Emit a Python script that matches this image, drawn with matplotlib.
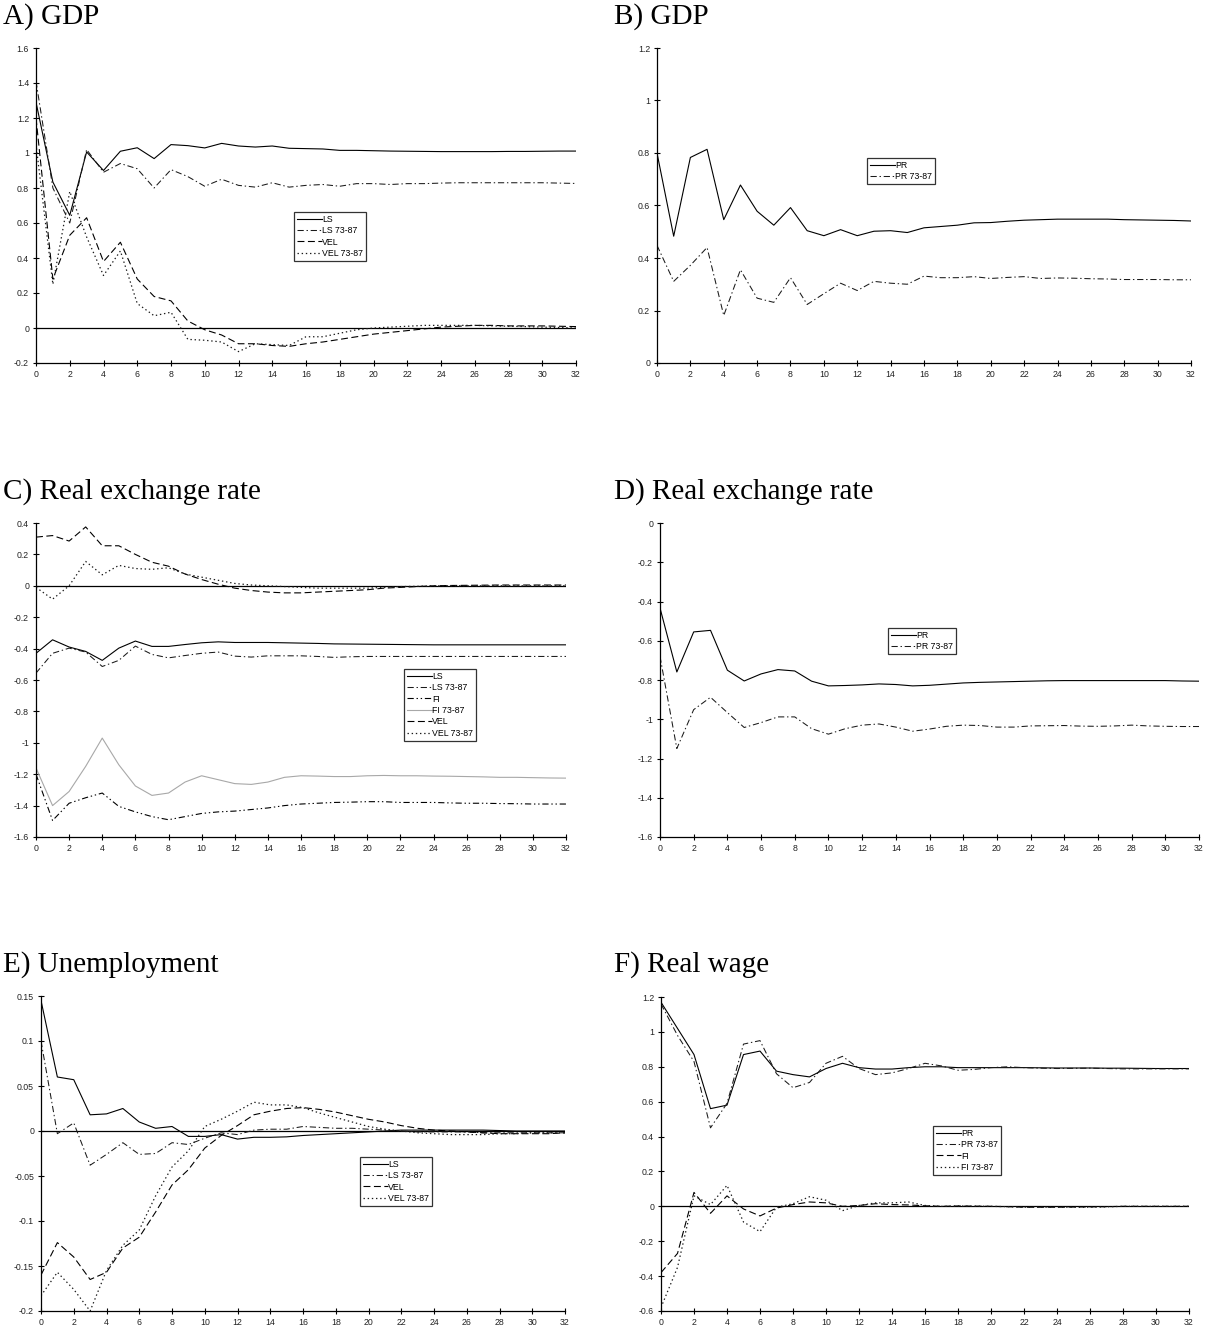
"""
Impulse responses, six panels (GDP, real exchange rate, unemployment, real wage).
"""

import numpy as np
import matplotlib
matplotlib.use("Agg")
import matplotlib.pyplot as plt
from matplotlib.ticker import FuncFormatter, MultipleLocator

plt.rcParams['font.family'] = ['Liberation Sans', 'DejaVu Sans']
plt.rcParams['lines.scale_dashes'] = False

# horizon (quarters)
horizon = list(range(33))

# A) GDP
A_LS = [1.29, 0.834, 0.644, 1.006, 0.90, 1.01, 1.03, 0.968, 1.048, 1.042, 1.029, 1.055, 1.04, 1.034, 1.04, 1.027,
        1.025, 1.023, 1.015, 1.015, 1.013, 1.011, 1.01, 1.009, 1.008, 1.008, 1.008, 1.008, 1.009, 1.009, 1.01, 1.011, 1.011]
A_LS_7387 = [1.41, 0.80, 0.60, 1.02, 0.89, 0.94, 0.91, 0.80, 0.905, 0.865, 0.81, 0.85, 0.815, 0.805, 0.83, 0.805,
             0.815, 0.82, 0.81, 0.825, 0.825, 0.82, 0.825, 0.825, 0.828, 0.83, 0.83, 0.83, 0.83, 0.83, 0.83, 0.828, 0.826]
A_VEL = [1.2, 0.28, 0.53, 0.63, 0.38, 0.49, 0.28, 0.18, 0.155, 0.04, -0.01, -0.04, -0.09, -0.09, -0.10, -0.105,
         -0.09, -0.08, -0.065, -0.05, -0.035, -0.025, -0.015, -0.005, 0.005, 0.01, 0.015, 0.015, 0.012, 0.012, 0.012, 0.01, 0.008]
A_VEL_7387 = [1.05, 0.25, 0.78, 0.52, 0.30, 0.44, 0.14, 0.07, 0.09, -0.065, -0.07, -0.08, -0.135, -0.09, -0.095, -0.10,
              -0.05, -0.05, -0.03, -0.01, 0.0, 0.005, 0.01, 0.015, 0.015, 0.015, 0.015, 0.012, 0.01, 0.008, 0.005, 0.003, 0.0]

# B) GDP
B_PR = [0.80, 0.483, 0.783, 0.814, 0.546, 0.678, 0.578, 0.525, 0.592, 0.504, 0.485, 0.508, 0.485, 0.502, 0.504, 0.497,
        0.515, 0.52, 0.525, 0.534, 0.535, 0.54, 0.544, 0.546, 0.548, 0.548, 0.548, 0.548, 0.546, 0.545, 0.544, 0.543, 0.541]
B_PR_7387 = [0.448, 0.311, 0.372, 0.44, 0.181, 0.355, 0.247, 0.231, 0.325, 0.223, 0.264, 0.304, 0.276, 0.311, 0.304, 0.30,
             0.331, 0.325, 0.325, 0.329, 0.322, 0.326, 0.329, 0.322, 0.324, 0.323, 0.321, 0.32, 0.318, 0.318, 0.318, 0.317, 0.317]

# C) Real exchange rate
C_LS = [-0.43, -0.344, -0.39, -0.418, -0.475, -0.397, -0.352, -0.386, -0.386, -0.374, -0.363, -0.357, -0.361, -0.361,
        -0.361, -0.363, -0.365, -0.367, -0.37, -0.371, -0.372, -0.373, -0.374, -0.375, -0.376, -0.376, -0.376, -0.376,
        -0.376, -0.376, -0.376, -0.376, -0.376]
C_LS_7387 = [-0.556, -0.43, -0.397, -0.422, -0.514, -0.475, -0.384, -0.437, -0.459, -0.444, -0.43, -0.422, -0.448,
             -0.454, -0.446, -0.446, -0.446, -0.45, -0.456, -0.452, -0.45, -0.45, -0.45, -0.45, -0.45, -0.45, -0.45,
             -0.45, -0.45, -0.45, -0.45, -0.45, -0.45]
C_FI = [-1.2, -1.495, -1.385, -1.35, -1.32, -1.405, -1.44, -1.47, -1.49, -1.47, -1.45, -1.44, -1.435, -1.425, -1.415,
        -1.40, -1.39, -1.385, -1.38, -1.378, -1.375, -1.375, -1.38, -1.38, -1.38, -1.383, -1.385, -1.385, -1.387,
        -1.388, -1.39, -1.39, -1.39]
C_FI_7387 = [-1.16, -1.40, -1.31, -1.15, -0.97, -1.14, -1.275, -1.335, -1.32, -1.25, -1.21, -1.235, -1.26, -1.265,
             -1.25, -1.22, -1.21, -1.212, -1.215, -1.215, -1.21, -1.208, -1.21, -1.21, -1.212, -1.213, -1.215, -1.217,
             -1.22, -1.22, -1.222, -1.224, -1.225]
C_VEL = [0.31, 0.32, 0.285, 0.375, 0.255, 0.255, 0.2, 0.15, 0.125, 0.075, 0.04, 0.01, -0.015, -0.03, -0.04, -0.045,
         -0.045, -0.04, -0.035, -0.03, -0.025, -0.015, -0.01, -0.005, 0.0, 0.002, 0.003, 0.004, 0.005, 0.005, 0.005,
         0.005, 0.005]
C_VEL_7387 = [-0.01, -0.085, 0.0, 0.155, 0.07, 0.13, 0.11, 0.105, 0.115, 0.075, 0.055, 0.035, 0.015, 0.005, 0.0,
              -0.005, -0.01, -0.015, -0.015, -0.015, -0.015, -0.01, -0.005, -0.003, 0.0, 0.0, 0.0, 0.0, 0.0, 0.0,
              0.0, 0.0, 0.0]

# D) Real exchange rate
D_PR = [-0.433, -0.759, -0.555, -0.547, -0.75, -0.805, -0.769, -0.747, -0.754, -0.806, -0.83, -0.828, -0.825, -0.82,
        -0.823, -0.83, -0.827, -0.821, -0.815, -0.812, -0.81, -0.808, -0.806, -0.804, -0.803, -0.803, -0.803, -0.803,
        -0.803, -0.803, -0.803, -0.805, -0.806]
D_PR_7387 = [-0.68, -1.149, -0.951, -0.888, -0.966, -1.042, -1.017, -0.988, -0.988, -1.048, -1.076, -1.048, -1.03,
             -1.024, -1.04, -1.061, -1.05, -1.036, -1.03, -1.032, -1.04, -1.04, -1.034, -1.033, -1.032, -1.035,
             -1.036, -1.034, -1.03, -1.034, -1.036, -1.037, -1.037]

# E) Unemployment
E_LS = [0.145, 0.06, 0.057, 0.018, 0.019, 0.025, 0.01, 0.003, 0.005, -0.006, -0.006, -0.004, -0.009, -0.007, -0.007,
        -0.0065, -0.005, -0.004, -0.003, -0.002, -0.001, 0.0, 0.001, 0.001, 0.001, 0.001, 0.001, 0.001, 0.0005, 0.0,
        0.0, 0.0, 0.0]
E_LS_7387 = [0.1, -0.003, 0.009, -0.038, -0.026, -0.013, -0.026, -0.025, -0.013, -0.015, -0.008, -0.002, -0.004,
             0.001, 0.002, 0.002, 0.005, 0.004, 0.003, 0.003, 0.002, 0.001, 0.0, -0.001, -0.001, -0.001, -0.001,
             -0.002, -0.002, -0.002, -0.002, -0.002, -0.002]
E_VEL = [-0.16, -0.124, -0.14, -0.165, -0.157, -0.13, -0.118, -0.09, -0.06, -0.043, -0.019, -0.005, 0.006, 0.018,
         0.022, 0.025, 0.026, 0.024, 0.021, 0.017, 0.013, 0.01, 0.006, 0.003, 0.001, 0.0, -0.001, -0.002, -0.003,
         -0.003, -0.003, -0.003, -0.002]
E_VEL_7387 = [-0.183, -0.157, -0.176, -0.2, -0.155, -0.127, -0.11, -0.072, -0.04, -0.022, 0.005, 0.013, 0.022, 0.032,
              0.029, 0.029, 0.026, 0.02, 0.015, 0.01, 0.005, 0.002, 0.0, -0.002, -0.003, -0.004, -0.004, -0.004,
              -0.003, -0.003, -0.002, -0.002, -0.002]

# F) Real wage
F_PR = [1.17, 1.02, 0.87, 0.56, 0.58, 0.87, 0.89, 0.775, 0.755, 0.742, 0.79, 0.82, 0.795, 0.787, 0.787, 0.795, 0.80,
        0.80, 0.795, 0.795, 0.795, 0.795, 0.795, 0.794, 0.793, 0.793, 0.793, 0.792, 0.792, 0.791, 0.79, 0.79, 0.79]
F_PR_7387 = [1.16, 0.98, 0.83, 0.45, 0.59, 0.93, 0.95, 0.76, 0.68, 0.71, 0.82, 0.86, 0.79, 0.755, 0.765, 0.79, 0.82,
             0.805, 0.78, 0.785, 0.795, 0.80, 0.795, 0.792, 0.79, 0.791, 0.792, 0.79, 0.788, 0.788, 0.788, 0.788, 0.788]
F_FI = [-0.38, -0.27, 0.08, -0.04, 0.06, -0.015, -0.055, -0.01, 0.01, 0.025, 0.02, 0.0, 0.005, 0.015, 0.01, 0.008,
        0.003, 0.0, 0.002, 0.001, 0.0, -0.002, -0.005, -0.005, -0.005, -0.004, -0.003, -0.002, 0.0, 0.0, 0.0, 0.0, 0.0]
F_FI_7387 = [-0.58, -0.35, 0.06, 0.01, 0.12, -0.09, -0.145, -0.005, 0.015, 0.055, 0.035, -0.025, 0.005, 0.02, 0.02,
             0.025, 0.005, 0.0, 0.002, 0.001, 0.0, -0.002, -0.005, -0.005, -0.005, -0.005, -0.005, -0.003, 0.0, 0.0,
             0.0, 0.0, 0.0]

# line styles (dash patterns in points)
SOLID = dict(color='black', linestyle='-', linewidth=0.8)
DASHDOT = dict(color='#1a1a1a', linestyle=(0, (4.5, 2, 1, 2)), linewidth=0.75)
DASHDOTDOT = dict(color='black', linestyle=(0, (4.5, 2, 1, 2, 1, 2)), linewidth=0.8)
DASHED = dict(color='black', linestyle=(0, (5, 2.5)), linewidth=0.8)
DOTTED = dict(color='#1a1a1a', linestyle=(0, (1, 2)), linewidth=0.9)
LIGHT = dict(color='#a8a8a8', linestyle='-', linewidth=0.8)

FIG_W, FIG_H = 1205, 1332


def px_rect(left, right, top, bottom):
    """Convert pixel box to figure fraction rect."""
    return [left / FIG_W, 1 - bottom / FIG_H, (right - left) / FIG_W, (bottom - top) / FIG_H]


def draw_panel(fig, box, title, title_xy, series, ylim, ystep, legend_xy):
    ax = fig.add_axes(px_rect(*box))

    for label, values, style in series:
        ax.plot(horizon, values, label=label, **style)

    if ylim[0] < 0 < ylim[1]:
        ax.axhline(0, color='black', linewidth=0.9, zorder=1)

    ax.set_xlim(0, 32)
    ax.set_ylim(*ylim)
    ax.xaxis.set_major_locator(MultipleLocator(2))
    ax.yaxis.set_major_locator(MultipleLocator(ystep))
    ax.yaxis.set_major_formatter(FuncFormatter(lambda v, p: f'{round(v, 4) + 0:g}'))

    for side in ['top', 'right']:
        ax.spines[side].set_visible(False)
    for side in ['left', 'bottom']:
        ax.spines[side].set_linewidth(0.9)
    ax.tick_params(direction='inout', length=5, width=0.8, labelsize=6.3,
                   labelcolor='#222222', pad=2.5)

    fig.text(title_xy[0] / FIG_W, 1 - title_xy[1] / FIG_H, title,
             family=['Liberation Serif', 'DejaVu Serif'], fontsize=21, va='baseline', ha='left')

    leg = ax.legend(loc='upper left', bbox_to_anchor=(legend_xy[0] / FIG_W, 1 - legend_xy[1] / FIG_H),
                    bbox_transform=fig.transFigure, fontsize=6.3, frameon=True, fancybox=False,
                    borderpad=0.3, handlelength=2.9, handletextpad=0.05, labelspacing=0.28,
                    borderaxespad=0)
    leg.get_frame().set_edgecolor('black')
    leg.get_frame().set_linewidth(0.9)
    return ax


def main():
    fig = plt.figure(figsize=(FIG_W / 100, FIG_H / 100), dpi=100)

    draw_panel(fig, (36, 576, 48, 363), 'A) GDP', (3, 24),
               [('LS', A_LS, SOLID), ('LS 73-87', A_LS_7387, DASHDOT),
                ('VEL', A_VEL, DASHED), ('VEL 73-87', A_VEL_7387, DOTTED)],
               (-0.2, 1.6), 0.2, (294, 212))

    draw_panel(fig, (657, 1191, 48, 363), 'B) GDP', (614, 24),
               [('PR', B_PR, SOLID), ('PR 73-87', B_PR_7387, DASHDOT)],
               (0, 1.2), 0.2, (867, 158))

    draw_panel(fig, (36, 566, 523, 837), 'C) Real exchange rate', (3, 499),
               [('LS', C_LS, SOLID), ('LS 73-87', C_LS_7387, DASHDOT),
                ('FI', C_FI, DASHDOTDOT), ('FI 73-87', C_FI_7387, LIGHT),
                ('VEL', C_VEL, DASHED), ('VEL 73-87', C_VEL_7387, DOTTED)],
               (-1.6, 0.4), 0.2, (404, 669))

    draw_panel(fig, (660, 1199, 523, 837), 'D) Real exchange rate', (614, 499),
               [('PR', D_PR, SOLID), ('PR 73-87', D_PR_7387, DASHDOT)],
               (-1.6, 0), 0.2, (888, 628))

    draw_panel(fig, (41, 565, 996, 1311), 'E) Unemployment', (3, 972),
               [('LS', E_LS, SOLID), ('LS 73-87', E_LS_7387, DASHDOT),
                ('VEL', E_VEL, DASHED), ('VEL 73-87', E_VEL_7387, DOTTED)],
               (-0.2, 0.15), 0.05, (360, 1157))

    draw_panel(fig, (661, 1189, 997, 1311), 'F) Real wage', (614, 972),
               [('PR', F_PR, SOLID), ('PR 73-87', F_PR_7387, DASHDOT),
                ('FI', F_FI, DASHED), ('FI 73-87', F_FI_7387, DOTTED)],
               (-0.6, 1.2), 0.2, (933, 1126))

    fig.savefig('out.png', dpi=100, facecolor='white')
    plt.close(fig)


if __name__ == "__main__":
    main()
